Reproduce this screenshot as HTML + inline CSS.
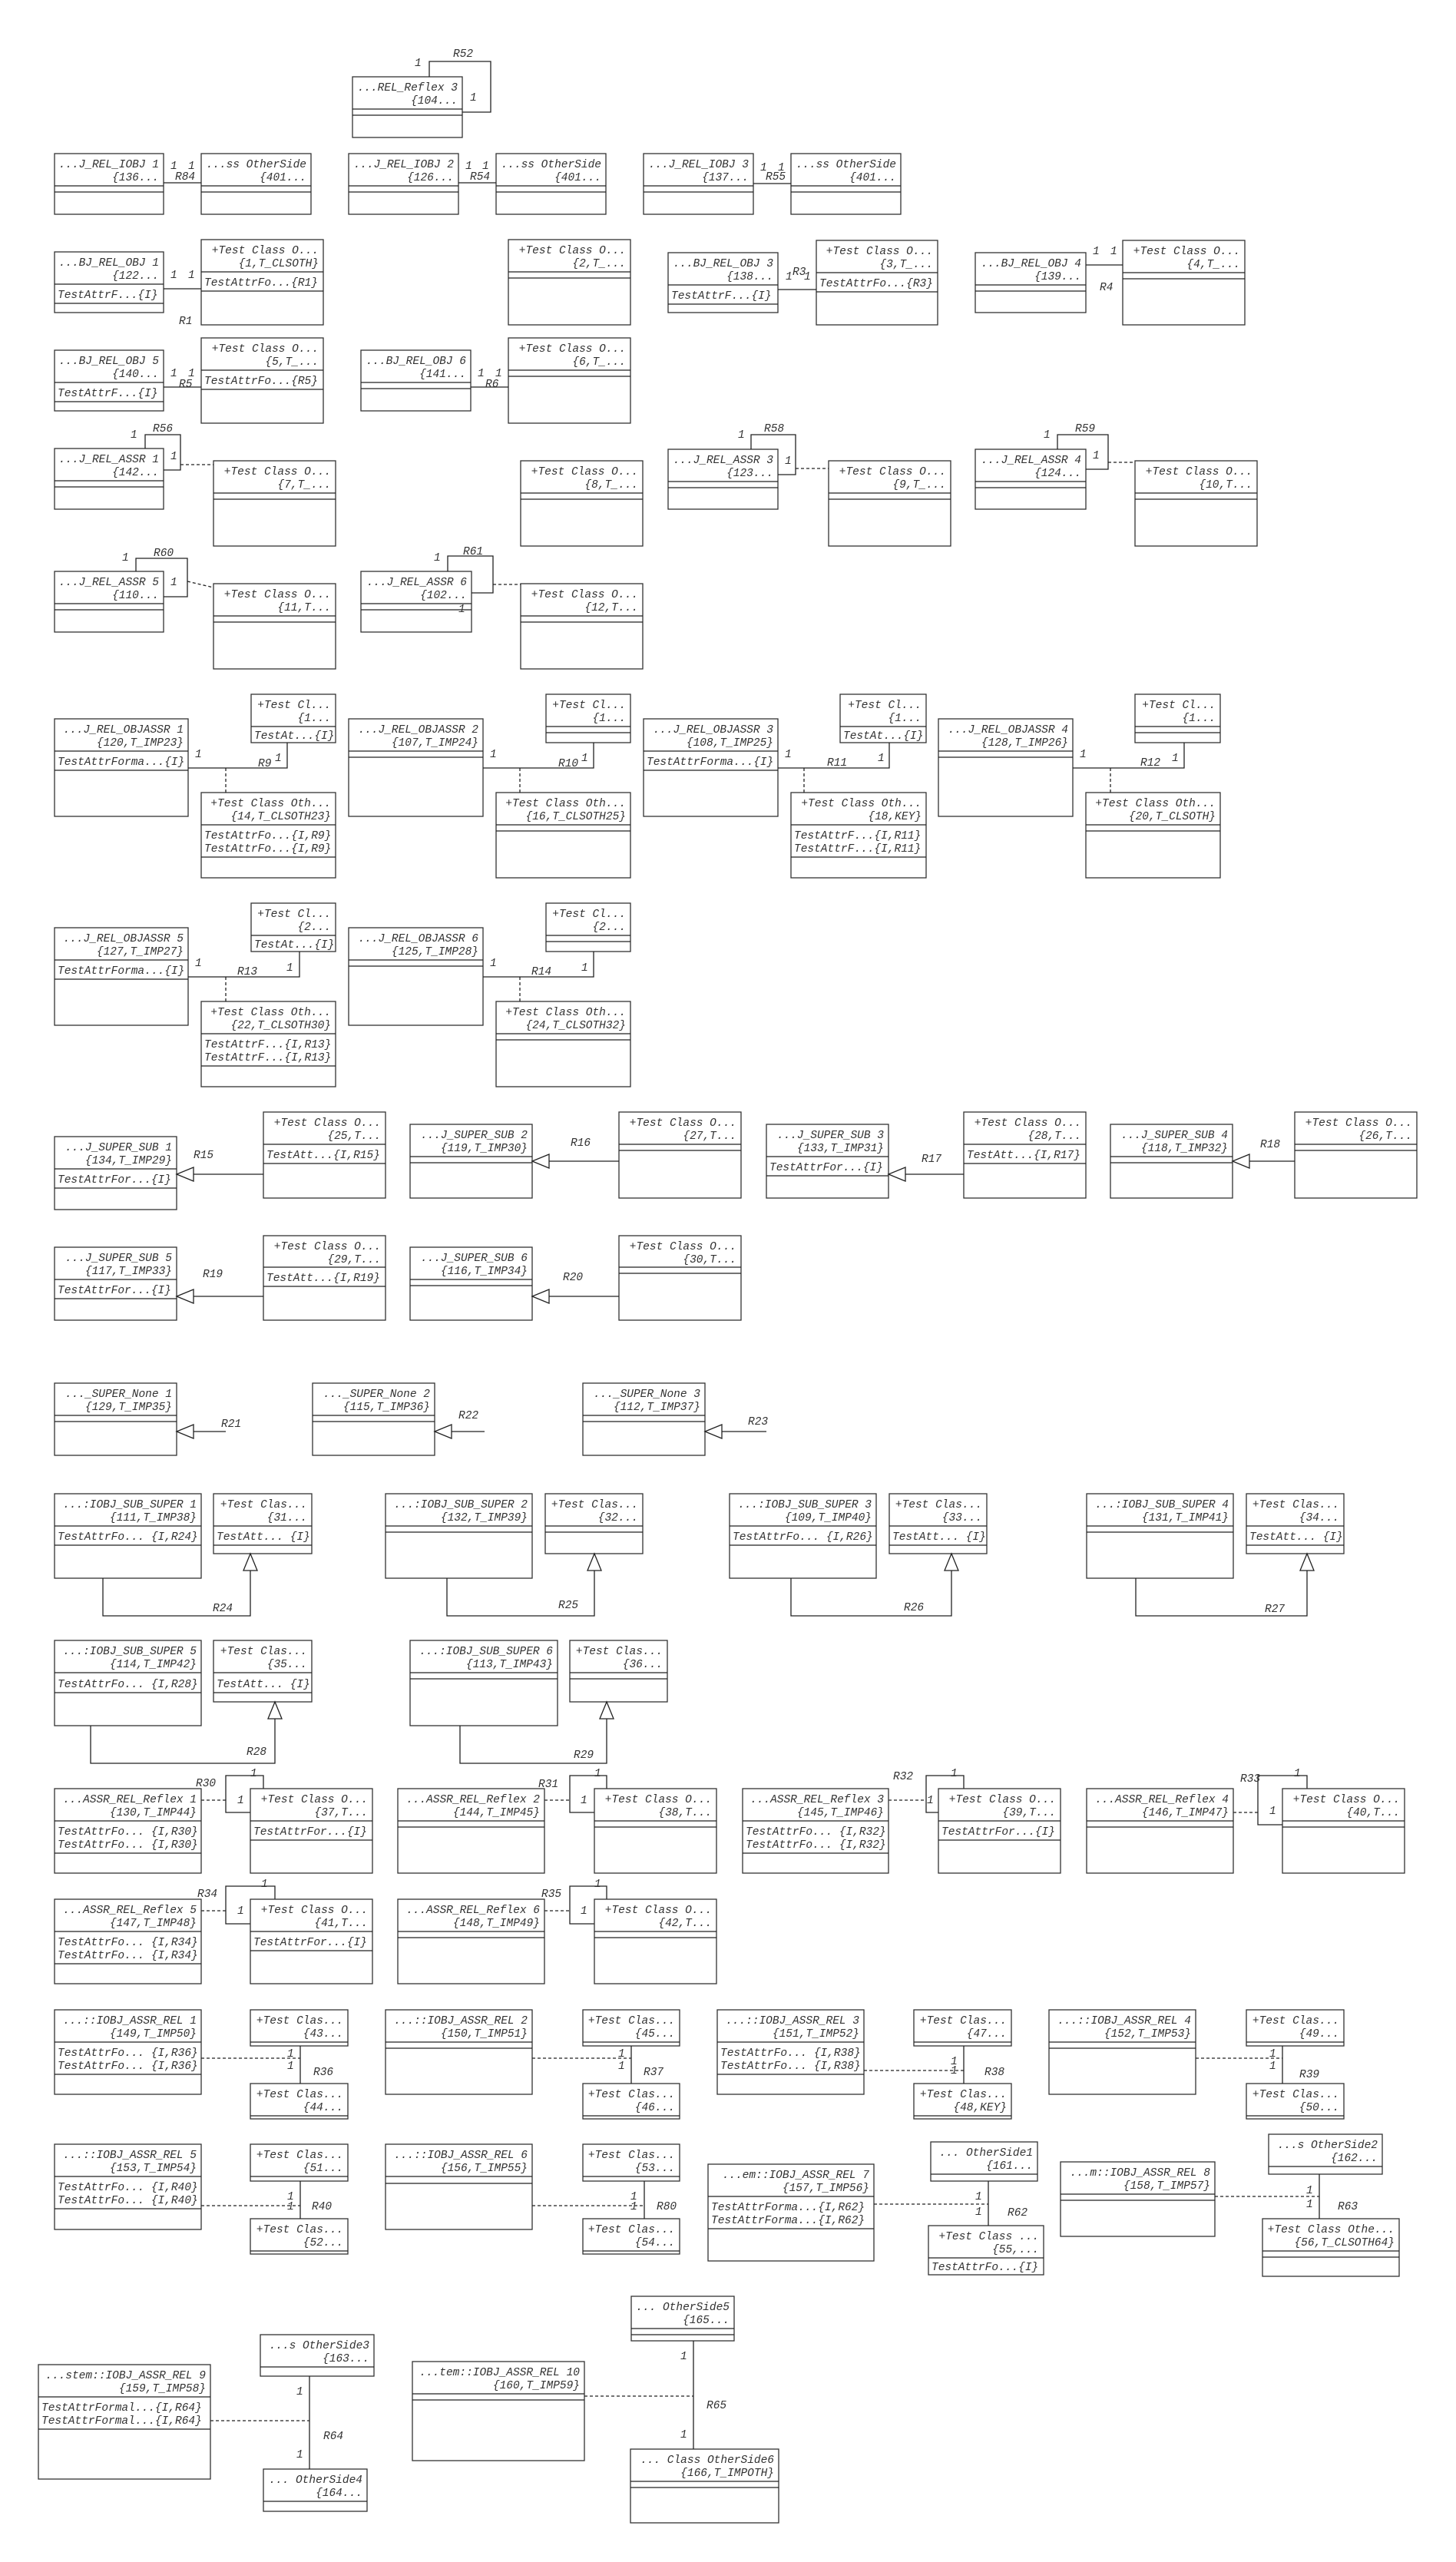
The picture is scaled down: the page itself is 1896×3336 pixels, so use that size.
<!DOCTYPE html>
<html><head><meta charset="utf-8"><style>
html,body{margin:0;padding:0;background:#fff}
svg{display:block}
rect{fill:#fff;stroke:#333;stroke-width:1.3}
line,path{stroke:#222;stroke-width:1.3;fill:none}
.d{stroke-dasharray:4 3}
text{font-family:"Liberation Mono",monospace;font-style:italic;font-size:14.5px;fill:#333}
.r{text-anchor:end}
polygon{fill:#fff;stroke:#222;stroke-width:1.3}
</style></head><body>
<svg width="1896" height="3336" viewBox="0 0 1896 3336" xmlns="http://www.w3.org/2000/svg">
<!-- Reflex 3 -->
<rect x="459" y="100" width="143" height="79"/><line x1="459" y1="142" x2="602" y2="142"/><line x1="459" y1="150" x2="602" y2="150"/>
<text class="r" x="596" y="118">...REL_Reflex 3</text><text class="r" x="596" y="135">{104...</text>
<path d="M559,100 V80 H639 V146 H602"/><text x="540" y="86">1</text><text x="590" y="74">R52</text><text x="612" y="131">1</text>

<!-- Row B -->
<rect x="71" y="200" width="142" height="79"/><line x1="71" y1="242" x2="213" y2="242"/><line x1="71" y1="250" x2="213" y2="250"/>
<text class="r" x="207" y="218">...J_REL_IOBJ 1</text><text class="r" x="207" y="235">{136...</text>
<rect x="262" y="200" width="143" height="79"/><line x1="262" y1="242" x2="405" y2="242"/><line x1="262" y1="250" x2="405" y2="250"/>
<text class="r" x="399" y="218">...ss OtherSide</text><text class="r" x="399" y="235">{401...</text>
<line x1="213" y1="238" x2="262" y2="238"/><text x="222" y="220">1</text><text x="245" y="220">1</text><text x="228" y="234">R84</text>

<rect x="454" y="200" width="143" height="79"/><line x1="454" y1="242" x2="597" y2="242"/><line x1="454" y1="250" x2="597" y2="250"/>
<text class="r" x="591" y="218">...J_REL_IOBJ 2</text><text class="r" x="591" y="235">{126...</text>
<rect x="646" y="200" width="143" height="79"/><line x1="646" y1="242" x2="789" y2="242"/><line x1="646" y1="250" x2="789" y2="250"/>
<text class="r" x="783" y="218">...ss OtherSide</text><text class="r" x="783" y="235">{401...</text>
<line x1="597" y1="238" x2="646" y2="238"/><text x="606" y="220">1</text><text x="628" y="220">1</text><text x="612" y="234">R54</text>

<rect x="838" y="200" width="143" height="79"/><line x1="838" y1="242" x2="981" y2="242"/><line x1="838" y1="250" x2="981" y2="250"/>
<text class="r" x="975" y="218">...J_REL_IOBJ 3</text><text class="r" x="975" y="235">{137...</text>
<rect x="1030" y="200" width="143" height="79"/><line x1="1030" y1="242" x2="1173" y2="242"/><line x1="1030" y1="250" x2="1173" y2="250"/>
<text class="r" x="1167" y="218">...ss OtherSide</text><text class="r" x="1167" y="235">{401...</text>
<line x1="981" y1="239" x2="1030" y2="239"/><text x="990" y="222">1</text><text x="1013" y="222">1</text><text x="997" y="234">R55</text>

<!-- Row C -->
<rect x="71" y="328" width="142" height="79"/><line x1="71" y1="370" x2="213" y2="370"/><line x1="71" y1="395" x2="213" y2="395"/>
<text class="r" x="207" y="346">...BJ_REL_OBJ 1</text><text class="r" x="207" y="363">{122...</text><text x="75" y="388">TestAttrF...{I}</text>
<rect x="262" y="312" width="159" height="111"/><line x1="262" y1="354" x2="421" y2="354"/><line x1="262" y1="379" x2="421" y2="379"/>
<text class="r" x="415" y="330">+Test Class O...</text><text class="r" x="415" y="347">{1,T_CLSOTH}</text><text x="266" y="372">TestAttrFo...{R1}</text>
<line x1="213" y1="376" x2="262" y2="376"/><text x="222" y="362">1</text><text x="245" y="362">1</text><text x="233" y="422">R1</text>

<rect x="662" y="312" width="159" height="111"/><line x1="662" y1="354" x2="821" y2="354"/><line x1="662" y1="362" x2="821" y2="362"/>
<text class="r" x="815" y="330">+Test Class O...</text><text class="r" x="815" y="347">{2,T_...</text>

<rect x="870" y="329" width="143" height="78"/><line x1="870" y1="371" x2="1013" y2="371"/><line x1="870" y1="396" x2="1013" y2="396"/>
<text class="r" x="1007" y="347">...BJ_REL_OBJ 3</text><text class="r" x="1007" y="364">{138...</text><text x="874" y="389">TestAttrF...{I}</text>
<rect x="1063" y="313" width="158" height="110"/><line x1="1063" y1="355" x2="1221" y2="355"/><line x1="1063" y1="380" x2="1221" y2="380"/>
<text class="r" x="1215" y="331">+Test Class O...</text><text class="r" x="1215" y="348">{3,T_...</text><text x="1067" y="373">TestAttrFo...{R3}</text>
<line x1="1013" y1="377" x2="1063" y2="377"/><text x="1023" y="364">1</text><text x="1032" y="358">R3</text><text x="1047" y="364">1</text>

<rect x="1270" y="329" width="144" height="78"/><line x1="1270" y1="371" x2="1414" y2="371"/><line x1="1270" y1="379" x2="1414" y2="379"/>
<text class="r" x="1408" y="347">...BJ_REL_OBJ 4</text><text class="r" x="1408" y="364">{139...</text>
<rect x="1462" y="313" width="159" height="110"/><line x1="1462" y1="355" x2="1621" y2="355"/><line x1="1462" y1="363" x2="1621" y2="363"/>
<text class="r" x="1615" y="331">+Test Class O...</text><text class="r" x="1615" y="348">{4,T_...</text>
<line x1="1414" y1="345" x2="1462" y2="345"/><text x="1423" y="331">1</text><text x="1446" y="331">1</text><text x="1432" y="378">R4</text>

<!-- Row D -->
<rect x="71" y="456" width="142" height="79"/><line x1="71" y1="498" x2="213" y2="498"/><line x1="71" y1="523" x2="213" y2="523"/>
<text class="r" x="207" y="474">...BJ_REL_OBJ 5</text><text class="r" x="207" y="491">{140...</text><text x="75" y="516">TestAttrF...{I}</text>
<rect x="262" y="440" width="159" height="111"/><line x1="262" y1="482" x2="421" y2="482"/><line x1="262" y1="507" x2="421" y2="507"/>
<text class="r" x="415" y="458">+Test Class O...</text><text class="r" x="415" y="475">{5,T_...</text><text x="266" y="500">TestAttrFo...{R5}</text>
<line x1="213" y1="504" x2="262" y2="504"/><text x="222" y="490">1</text><text x="245" y="490">1</text><text x="233" y="504">R5</text>
<rect x="470" y="456" width="143" height="79"/><line x1="470" y1="498" x2="613" y2="498"/><line x1="470" y1="506" x2="613" y2="506"/>
<text class="r" x="607" y="474">...BJ_REL_OBJ 6</text><text class="r" x="607" y="491">{141...</text>
<rect x="662" y="440" width="159" height="111"/><line x1="662" y1="482" x2="821" y2="482"/><line x1="662" y1="490" x2="821" y2="490"/>
<text class="r" x="815" y="458">+Test Class O...</text><text class="r" x="815" y="475">{6,T_...</text>
<line x1="613" y1="504" x2="662" y2="504"/><text x="622" y="490">1</text><text x="645" y="490">1</text><text x="632" y="504">R6</text>

<!-- Row E -->
<rect x="71" y="584" width="142" height="79"/><line x1="71" y1="626" x2="213" y2="626"/><line x1="71" y1="634" x2="213" y2="634"/>
<text class="r" x="207" y="602">...J_REL_ASSR 1</text><text class="r" x="207" y="619">{142...</text>
<path d="M189,584 V566 H235 V612 H213"/><text x="170" y="570">1</text><text x="199" y="562">R56</text><text x="222" y="598">1</text>
<line class="d" x1="235" y1="605" x2="278" y2="605"/>
<rect x="278" y="600" width="159" height="111"/><line x1="278" y1="642" x2="437" y2="642"/><line x1="278" y1="650" x2="437" y2="650"/>
<text class="r" x="431" y="618">+Test Class O...</text><text class="r" x="431" y="635">{7,T_...</text>
<rect x="678" y="600" width="159" height="111"/><line x1="678" y1="642" x2="837" y2="642"/><line x1="678" y1="650" x2="837" y2="650"/>
<text class="r" x="831" y="618">+Test Class O...</text><text class="r" x="831" y="635">{8,T_...</text>

<rect x="870" y="585" width="143" height="78"/><line x1="870" y1="627" x2="1013" y2="627"/><line x1="870" y1="635" x2="1013" y2="635"/>
<text class="r" x="1007" y="603">...J_REL_ASSR 3</text><text class="r" x="1007" y="620">{123...</text>
<path d="M978,585 V566 H1036 V618 H1013"/><text x="961" y="570">1</text><text x="995" y="562">R58</text><text x="1022" y="604">1</text>
<line class="d" x1="1036" y1="610" x2="1079" y2="610"/>
<rect x="1079" y="600" width="159" height="111"/><line x1="1079" y1="642" x2="1238" y2="642"/><line x1="1079" y1="650" x2="1238" y2="650"/>
<text class="r" x="1232" y="618">+Test Class O...</text><text class="r" x="1232" y="635">{9,T_...</text>

<rect x="1270" y="585" width="144" height="78"/><line x1="1270" y1="627" x2="1414" y2="627"/><line x1="1270" y1="635" x2="1414" y2="635"/>
<text class="r" x="1408" y="603">...J_REL_ASSR 4</text><text class="r" x="1408" y="620">{124...</text>
<path d="M1377,585 V566 H1443 V611 H1414"/><text x="1359" y="570">1</text><text x="1400" y="562">R59</text><text x="1423" y="597">1</text>
<line class="d" x1="1443" y1="602" x2="1478" y2="602"/>
<rect x="1478" y="600" width="159" height="111"/><line x1="1478" y1="642" x2="1637" y2="642"/><line x1="1478" y1="650" x2="1637" y2="650"/>
<text class="r" x="1631" y="618">+Test Class O...</text><text class="r" x="1631" y="635">{10,T...</text>

<!-- Row F -->
<rect x="71" y="744" width="142" height="79"/><line x1="71" y1="786" x2="213" y2="786"/><line x1="71" y1="794" x2="213" y2="794"/>
<text class="r" x="207" y="762">...J_REL_ASSR 5</text><text class="r" x="207" y="779">{110...</text>
<path d="M177,744 V727 H244 V777 H213"/><text x="159" y="730">1</text><text x="200" y="724">R60</text><text x="222" y="762">1</text>
<line class="d" x1="244" y1="757" x2="278" y2="765"/>
<rect x="278" y="760" width="159" height="111"/><line x1="278" y1="802" x2="437" y2="802"/><line x1="278" y1="810" x2="437" y2="810"/>
<text class="r" x="431" y="778">+Test Class O...</text><text class="r" x="431" y="795">{11,T...</text>
<rect x="470" y="744" width="144" height="79"/><line x1="470" y1="786" x2="614" y2="786"/><line x1="470" y1="794" x2="614" y2="794"/>
<text class="r" x="608" y="762">...J_REL_ASSR 6</text><text class="r" x="608" y="779">{102...</text><text x="597" y="797">1</text>
<path d="M583,744 V724 H642 V772 H614"/><text x="565" y="730">1</text><text x="603" y="722">R61</text>
<line class="d" x1="642" y1="761" x2="678" y2="761"/>
<rect x="678" y="760" width="159" height="111"/><line x1="678" y1="802" x2="837" y2="802"/><line x1="678" y1="810" x2="837" y2="810"/>
<text class="r" x="831" y="778">+Test Class O...</text><text class="r" x="831" y="795">{12,T...</text>

<!-- Row G OBJASSR 1-4 -->
<rect x="71" y="936" width="174" height="127"/><line x1="71" y1="978" x2="245" y2="978"/><line x1="71" y1="1003" x2="245" y2="1003"/>
<text class="r" x="239" y="954">...J_REL_OBJASSR 1</text><text class="r" x="239" y="971">{120,T_IMP23}</text><text x="75" y="996">TestAttrForma...{I}</text>
<rect x="327" y="904" width="110" height="63"/><line x1="327" y1="946" x2="437" y2="946"/>
<text class="r" x="431" y="922">+Test Cl...</text><text class="r" x="431" y="939">{1...</text><text x="331" y="962">TestAt...{I}</text>
<rect x="262" y="1032" width="175" height="111"/><line x1="262" y1="1074" x2="437" y2="1074"/><line x1="262" y1="1116" x2="437" y2="1116"/>
<text class="r" x="431" y="1050">+Test Class Oth...</text><text class="r" x="431" y="1067">{14,T_CLSOTH23}</text><text x="266" y="1092">TestAttrFo...{I,R9}</text><text x="266" y="1109">TestAttrFo...{I,R9}</text>
<path d="M245,1000 H374 V967"/><line class="d" x1="294" y1="1000" x2="294" y2="1032"/><text x="254" y="986">1</text><text x="336" y="998">R9</text><text x="358" y="991">1</text>

<rect x="454" y="936" width="175" height="127"/><line x1="454" y1="978" x2="629" y2="978"/><line x1="454" y1="986" x2="629" y2="986"/>
<text class="r" x="623" y="954">...J_REL_OBJASSR 2</text><text class="r" x="623" y="971">{107,T_IMP24}</text>
<rect x="711" y="904" width="110" height="63"/><line x1="711" y1="946" x2="821" y2="946"/><line x1="711" y1="954" x2="821" y2="954"/>
<text class="r" x="815" y="922">+Test Cl...</text><text class="r" x="815" y="939">{1...</text>
<rect x="646" y="1032" width="175" height="111"/><line x1="646" y1="1074" x2="821" y2="1074"/><line x1="646" y1="1082" x2="821" y2="1082"/>
<text class="r" x="815" y="1050">+Test Class Oth...</text><text class="r" x="815" y="1067">{16,T_CLSOTH25}</text>
<path d="M629,1000 H773 V967"/><line class="d" x1="677" y1="1000" x2="677" y2="1032"/><text x="638" y="986">1</text><text x="727" y="998">R10</text><text x="757" y="991">1</text>

<rect x="838" y="936" width="175" height="127"/><line x1="838" y1="978" x2="1013" y2="978"/><line x1="838" y1="1003" x2="1013" y2="1003"/>
<text class="r" x="1007" y="954">...J_REL_OBJASSR 3</text><text class="r" x="1007" y="971">{108,T_IMP25}</text><text x="842" y="996">TestAttrForma...{I}</text>
<rect x="1094" y="904" width="112" height="63"/><line x1="1094" y1="946" x2="1206" y2="946"/>
<text class="r" x="1200" y="922">+Test Cl...</text><text class="r" x="1200" y="939">{1...</text><text x="1098" y="962">TestAt...{I}</text>
<rect x="1030" y="1032" width="176" height="111"/><line x1="1030" y1="1074" x2="1206" y2="1074"/><line x1="1030" y1="1116" x2="1206" y2="1116"/>
<text class="r" x="1200" y="1050">+Test Class Oth...</text><text class="r" x="1200" y="1067">{18,KEY}</text><text x="1034" y="1092">TestAttrF...{I,R11}</text><text x="1034" y="1109">TestAttrF...{I,R11}</text>
<path d="M1013,1000 H1158 V967"/><line class="d" x1="1047" y1="1000" x2="1047" y2="1032"/><text x="1022" y="986">1</text><text x="1077" y="997">R11</text><text x="1143" y="991">1</text>

<rect x="1222" y="936" width="175" height="127"/><line x1="1222" y1="978" x2="1397" y2="978"/><line x1="1222" y1="986" x2="1397" y2="986"/>
<text class="r" x="1391" y="954">...J_REL_OBJASSR 4</text><text class="r" x="1391" y="971">{128,T_IMP26}</text>
<rect x="1478" y="904" width="111" height="63"/><line x1="1478" y1="946" x2="1589" y2="946"/><line x1="1478" y1="954" x2="1589" y2="954"/>
<text class="r" x="1583" y="922">+Test Cl...</text><text class="r" x="1583" y="939">{1...</text>
<rect x="1414" y="1032" width="175" height="111"/><line x1="1414" y1="1074" x2="1589" y2="1074"/><line x1="1414" y1="1082" x2="1589" y2="1082"/>
<text class="r" x="1583" y="1050">+Test Class Oth...</text><text class="r" x="1583" y="1067">{20,T_CLSOTH}</text>
<path d="M1397,1000 H1542 V967"/><line class="d" x1="1446" y1="1000" x2="1446" y2="1032"/><text x="1406" y="986">1</text><text x="1485" y="997">R12</text><text x="1526" y="991">1</text>

<!-- Row H -->
<rect x="71" y="1208" width="174" height="127"/><line x1="71" y1="1250" x2="245" y2="1250"/><line x1="71" y1="1275" x2="245" y2="1275"/>
<text class="r" x="239" y="1226">...J_REL_OBJASSR 5</text><text class="r" x="239" y="1243">{127,T_IMP27}</text><text x="75" y="1268">TestAttrForma...{I}</text>
<rect x="327" y="1176" width="110" height="63"/><line x1="327" y1="1218" x2="437" y2="1218"/>
<text class="r" x="431" y="1194">+Test Cl...</text><text class="r" x="431" y="1211">{2...</text><text x="331" y="1234">TestAt...{I}</text>
<rect x="262" y="1304" width="175" height="111"/><line x1="262" y1="1346" x2="437" y2="1346"/><line x1="262" y1="1388" x2="437" y2="1388"/>
<text class="r" x="431" y="1322">+Test Class Oth...</text><text class="r" x="431" y="1339">{22,T_CLSOTH30}</text><text x="266" y="1364">TestAttrF...{I,R13}</text><text x="266" y="1381">TestAttrF...{I,R13}</text>
<path d="M245,1272 H390 V1239"/><line class="d" x1="294" y1="1272" x2="294" y2="1304"/><text x="254" y="1258">1</text><text x="309" y="1269">R13</text><text x="373" y="1264">1</text>

<rect x="454" y="1208" width="175" height="127"/><line x1="454" y1="1250" x2="629" y2="1250"/><line x1="454" y1="1258" x2="629" y2="1258"/>
<text class="r" x="623" y="1226">...J_REL_OBJASSR 6</text><text class="r" x="623" y="1243">{125,T_IMP28}</text>
<rect x="711" y="1176" width="110" height="63"/><line x1="711" y1="1218" x2="821" y2="1218"/><line x1="711" y1="1226" x2="821" y2="1226"/>
<text class="r" x="815" y="1194">+Test Cl...</text><text class="r" x="815" y="1211">{2...</text>
<rect x="646" y="1304" width="175" height="111"/><line x1="646" y1="1346" x2="821" y2="1346"/><line x1="646" y1="1354" x2="821" y2="1354"/>
<text class="r" x="815" y="1322">+Test Class Oth...</text><text class="r" x="815" y="1339">{24,T_CLSOTH32}</text>
<path d="M629,1272 H773 V1239"/><line class="d" x1="677" y1="1272" x2="677" y2="1304"/><text x="638" y="1258">1</text><text x="692" y="1269">R14</text><text x="757" y="1264">1</text>

<!-- Row I SUPER_SUB -->
<rect x="71" y="1480" width="159" height="95"/><line x1="71" y1="1522" x2="230" y2="1522"/><line x1="71" y1="1547" x2="230" y2="1547"/>
<text class="r" x="224" y="1498">...J_SUPER_SUB 1</text><text class="r" x="224" y="1515">{134,T_IMP29}</text><text x="75" y="1540">TestAttrFor...{I}</text>
<rect x="343" y="1448" width="159" height="112"/><line x1="343" y1="1490" x2="502" y2="1490"/><line x1="343" y1="1515" x2="502" y2="1515"/>
<text class="r" x="496" y="1466">+Test Class O...</text><text class="r" x="496" y="1483">{25,T...</text><text x="347" y="1508">TestAtt...{I,R15}</text>
<line x1="252" y1="1529" x2="343" y2="1529"/><polygon points="230,1529 252,1520 252,1538"/><text x="252" y="1508">R15</text>

<rect x="534" y="1464" width="159" height="96"/><line x1="534" y1="1506" x2="693" y2="1506"/><line x1="534" y1="1514" x2="693" y2="1514"/>
<text class="r" x="687" y="1482">...J_SUPER_SUB 2</text><text class="r" x="687" y="1499">{119,T_IMP30}</text>
<rect x="806" y="1448" width="159" height="112"/><line x1="806" y1="1490" x2="965" y2="1490"/><line x1="806" y1="1498" x2="965" y2="1498"/>
<text class="r" x="959" y="1466">+Test Class O...</text><text class="r" x="959" y="1483">{27,T...</text>
<line x1="715" y1="1512" x2="806" y2="1512"/><polygon points="693,1512 715,1503 715,1521"/><text x="743" y="1492">R16</text>

<rect x="998" y="1464" width="159" height="96"/><line x1="998" y1="1506" x2="1157" y2="1506"/><line x1="998" y1="1531" x2="1157" y2="1531"/>
<text class="r" x="1151" y="1482">...J_SUPER_SUB 3</text><text class="r" x="1151" y="1499">{133,T_IMP31}</text><text x="1002" y="1524">TestAttrFor...{I}</text>
<rect x="1255" y="1448" width="159" height="112"/><line x1="1255" y1="1490" x2="1414" y2="1490"/><line x1="1255" y1="1515" x2="1414" y2="1515"/>
<text class="r" x="1408" y="1466">+Test Class O...</text><text class="r" x="1408" y="1483">{28,T...</text><text x="1259" y="1508">TestAtt...{I,R17}</text>
<line x1="1179" y1="1529" x2="1255" y2="1529"/><polygon points="1157,1529 1179,1520 1179,1538"/><text x="1200" y="1513">R17</text>

<rect x="1446" y="1464" width="159" height="96"/><line x1="1446" y1="1506" x2="1605" y2="1506"/><line x1="1446" y1="1514" x2="1605" y2="1514"/>
<text class="r" x="1599" y="1482">...J_SUPER_SUB 4</text><text class="r" x="1599" y="1499">{118,T_IMP32}</text>
<rect x="1686" y="1448" width="159" height="112"/><line x1="1686" y1="1490" x2="1845" y2="1490"/><line x1="1686" y1="1498" x2="1845" y2="1498"/>
<text class="r" x="1839" y="1466">+Test Class O...</text><text class="r" x="1839" y="1483">{26,T...</text>
<line x1="1627" y1="1512" x2="1686" y2="1512"/><polygon points="1605,1512 1627,1503 1627,1521"/><text x="1641" y="1494">R18</text>

<!-- Row J -->
<rect x="71" y="1624" width="159" height="95"/><line x1="71" y1="1666" x2="230" y2="1666"/><line x1="71" y1="1691" x2="230" y2="1691"/>
<text class="r" x="224" y="1642">...J_SUPER_SUB 5</text><text class="r" x="224" y="1659">{117,T_IMP33}</text><text x="75" y="1684">TestAttrFor...{I}</text>
<rect x="343" y="1609" width="159" height="110"/><line x1="343" y1="1650" x2="502" y2="1650"/><line x1="343" y1="1675" x2="502" y2="1675"/>
<text class="r" x="496" y="1627">+Test Class O...</text><text class="r" x="496" y="1644">{29,T...</text><text x="347" y="1668">TestAtt...{I,R19}</text>
<line x1="252" y1="1688" x2="343" y2="1688"/><polygon points="230,1688 252,1679 252,1697"/><text x="264" y="1663">R19</text>
<rect x="534" y="1624" width="159" height="95"/><line x1="534" y1="1666" x2="693" y2="1666"/><line x1="534" y1="1674" x2="693" y2="1674"/>
<text class="r" x="687" y="1642">...J_SUPER_SUB 6</text><text class="r" x="687" y="1659">{116,T_IMP34}</text>
<rect x="806" y="1609" width="159" height="110"/><line x1="806" y1="1650" x2="965" y2="1650"/><line x1="806" y1="1658" x2="965" y2="1658"/>
<text class="r" x="959" y="1627">+Test Class O...</text><text class="r" x="959" y="1644">{30,T...</text>
<line x1="715" y1="1688" x2="806" y2="1688"/><polygon points="693,1688 715,1679 715,1697"/><text x="733" y="1667">R20</text>

<!-- Row K -->
<rect x="71" y="1801" width="159" height="94"/><line x1="71" y1="1843" x2="230" y2="1843"/><line x1="71" y1="1851" x2="230" y2="1851"/>
<text class="r" x="224" y="1819">..._SUPER_None 1</text><text class="r" x="224" y="1836">{129,T_IMP35}</text>
<line x1="252" y1="1864" x2="294" y2="1864"/><polygon points="230,1864 252,1855 252,1873"/><text x="288" y="1858">R21</text>
<rect x="407" y="1801" width="159" height="94"/><line x1="407" y1="1843" x2="566" y2="1843"/><line x1="407" y1="1851" x2="566" y2="1851"/>
<text class="r" x="560" y="1819">..._SUPER_None 2</text><text class="r" x="560" y="1836">{115,T_IMP36}</text>
<line x1="588" y1="1864" x2="631" y2="1864"/><polygon points="566,1864 588,1855 588,1873"/><text x="597" y="1847">R22</text>
<rect x="759" y="1801" width="159" height="94"/><line x1="759" y1="1843" x2="918" y2="1843"/><line x1="759" y1="1851" x2="918" y2="1851"/>
<text class="r" x="912" y="1819">..._SUPER_None 3</text><text class="r" x="912" y="1836">{112,T_IMP37}</text>
<line x1="940" y1="1864" x2="998" y2="1864"/><polygon points="918,1864 940,1855 940,1873"/><text x="974" y="1855">R23</text>

<!-- Row L -->
<rect x="71" y="1945" width="191" height="110"/><line x1="71" y1="1987" x2="262" y2="1987"/><line x1="71" y1="2012" x2="262" y2="2012"/>
<text class="r" x="256" y="1963">...:IOBJ_SUB_SUPER 1</text><text class="r" x="256" y="1980">{111,T_IMP38}</text><text x="75" y="2005">TestAttrFo... {I,R24}</text>
<rect x="278" y="1945" width="128" height="78"/><line x1="278" y1="1987" x2="406" y2="1987"/><line x1="278" y1="2012" x2="406" y2="2012"/>
<text class="r" x="400" y="1963">+Test Clas...</text><text class="r" x="400" y="1980">{31...</text><text x="282" y="2005">TestAtt... {I}</text>
<path d="M326,2045 V2104 H134 V2055"/><polygon points="326,2023 317,2045 335,2045"/><text x="277" y="2098">R24</text>

<rect x="502" y="1945" width="191" height="110"/><line x1="502" y1="1987" x2="693" y2="1987"/><line x1="502" y1="1995" x2="693" y2="1995"/>
<text class="r" x="687" y="1963">...:IOBJ_SUB_SUPER 2</text><text class="r" x="687" y="1980">{132,T_IMP39}</text>
<rect x="710" y="1945" width="127" height="78"/><line x1="710" y1="1987" x2="837" y2="1987"/><line x1="710" y1="1995" x2="837" y2="1995"/>
<text class="r" x="831" y="1963">+Test Clas...</text><text class="r" x="831" y="1980">{32...</text>
<path d="M774,2045 V2104 H582 V2055"/><polygon points="774,2023 765,2045 783,2045"/><text x="727" y="2094">R25</text>

<rect x="950" y="1945" width="191" height="110"/><line x1="950" y1="1987" x2="1141" y2="1987"/><line x1="950" y1="2012" x2="1141" y2="2012"/>
<text class="r" x="1135" y="1963">...:IOBJ_SUB_SUPER 3</text><text class="r" x="1135" y="1980">{109,T_IMP40}</text><text x="954" y="2005">TestAttrFo... {I,R26}</text>
<rect x="1158" y="1945" width="127" height="78"/><line x1="1158" y1="1987" x2="1285" y2="1987"/><line x1="1158" y1="2012" x2="1285" y2="2012"/>
<text class="r" x="1279" y="1963">+Test Clas...</text><text class="r" x="1279" y="1980">{33...</text><text x="1162" y="2005">TestAtt... {I}</text>
<path d="M1239,2045 V2104 H1030 V2055"/><polygon points="1239,2023 1230,2045 1248,2045"/><text x="1177" y="2097">R26</text>

<rect x="1415" y="1945" width="191" height="110"/><line x1="1415" y1="1987" x2="1606" y2="1987"/><line x1="1415" y1="1995" x2="1606" y2="1995"/>
<text class="r" x="1600" y="1963">...:IOBJ_SUB_SUPER 4</text><text class="r" x="1600" y="1980">{131,T_IMP41}</text>
<rect x="1623" y="1945" width="127" height="78"/><line x1="1623" y1="1987" x2="1750" y2="1987"/><line x1="1623" y1="2012" x2="1750" y2="2012"/>
<text class="r" x="1744" y="1963">+Test Clas...</text><text class="r" x="1744" y="1980">{34...</text><text x="1627" y="2005">TestAtt... {I}</text>
<path d="M1702,2045 V2104 H1479 V2055"/><polygon points="1702,2023 1693,2045 1711,2045"/><text x="1647" y="2099">R27</text>

<!-- Row M -->
<rect x="71" y="2136" width="191" height="111"/><line x1="71" y1="2178" x2="262" y2="2178"/><line x1="71" y1="2204" x2="262" y2="2204"/>
<text class="r" x="256" y="2154">...:IOBJ_SUB_SUPER 5</text><text class="r" x="256" y="2171">{114,T_IMP42}</text><text x="75" y="2197">TestAttrFo... {I,R28}</text>
<rect x="278" y="2136" width="128" height="80"/><line x1="278" y1="2178" x2="406" y2="2178"/><line x1="278" y1="2204" x2="406" y2="2204"/>
<text class="r" x="400" y="2154">+Test Clas...</text><text class="r" x="400" y="2171">{35...</text><text x="282" y="2197">TestAtt... {I}</text>
<path d="M358,2238 V2296 H118 V2247"/><polygon points="358,2216 349,2238 367,2238"/><text x="321" y="2285">R28</text>
<rect x="534" y="2136" width="192" height="111"/><line x1="534" y1="2178" x2="726" y2="2178"/><line x1="534" y1="2186" x2="726" y2="2186"/>
<text class="r" x="720" y="2154">...:IOBJ_SUB_SUPER 6</text><text class="r" x="720" y="2171">{113,T_IMP43}</text>
<rect x="742" y="2136" width="127" height="80"/><line x1="742" y1="2178" x2="869" y2="2178"/><line x1="742" y1="2186" x2="869" y2="2186"/>
<text class="r" x="863" y="2154">+Test Clas...</text><text class="r" x="863" y="2171">{36...</text>
<path d="M790,2238 V2296 H599 V2247"/><polygon points="790,2216 781,2238 799,2238"/><text x="747" y="2289">R29</text>

<!-- Row N Reflex -->
<path d="M343,2329 V2312 H294 V2360 H326"/><line class="d" x1="262" y1="2344" x2="294" y2="2344"/><text x="255" y="2326">R30</text><text x="309" y="2348">1</text><text x="326" y="2313">1</text>
<rect x="71" y="2329" width="191" height="110"/><line x1="71" y1="2371" x2="262" y2="2371"/><line x1="71" y1="2413" x2="262" y2="2413"/>
<text class="r" x="256" y="2347">...ASSR_REL_Reflex 1</text><text class="r" x="256" y="2364">{130,T_IMP44}</text><text x="75" y="2389">TestAttrFo... {I,R30}</text><text x="75" y="2406">TestAttrFo... {I,R30}</text>
<rect x="326" y="2329" width="159" height="110"/><line x1="326" y1="2371" x2="485" y2="2371"/><line x1="326" y1="2396" x2="485" y2="2396"/>
<text class="r" x="479" y="2347">+Test Class O...</text><text class="r" x="479" y="2364">{37,T...</text><text x="330" y="2389">TestAttrFor...{I}</text>

<path d="M790,2329 V2312 H742 V2360 H774"/><line class="d" x1="709" y1="2344" x2="742" y2="2344"/><text x="701" y="2327">R31</text><text x="756" y="2348">1</text><text x="774" y="2313">1</text>
<rect x="518" y="2329" width="191" height="110"/><line x1="518" y1="2371" x2="709" y2="2371"/><line x1="518" y1="2379" x2="709" y2="2379"/>
<text class="r" x="703" y="2347">...ASSR_REL_Reflex 2</text><text class="r" x="703" y="2364">{144,T_IMP45}</text>
<rect x="774" y="2329" width="159" height="110"/><line x1="774" y1="2371" x2="933" y2="2371"/><line x1="774" y1="2379" x2="933" y2="2379"/>
<text class="r" x="927" y="2347">+Test Class O...</text><text class="r" x="927" y="2364">{38,T...</text>

<path d="M1255,2329 V2312 H1206 V2360 H1222"/><line class="d" x1="1157" y1="2344" x2="1206" y2="2344"/><text x="1163" y="2317">R32</text><text x="1207" y="2348">1</text><text x="1238" y="2313">1</text>
<rect x="967" y="2329" width="190" height="110"/><line x1="967" y1="2371" x2="1157" y2="2371"/><line x1="967" y1="2413" x2="1157" y2="2413"/>
<text class="r" x="1151" y="2347">...ASSR_REL_Reflex 3</text><text class="r" x="1151" y="2364">{145,T_IMP46}</text><text x="971" y="2389">TestAttrFo... {I,R32}</text><text x="971" y="2406">TestAttrFo... {I,R32}</text>
<rect x="1222" y="2329" width="159" height="110"/><line x1="1222" y1="2371" x2="1381" y2="2371"/><line x1="1222" y1="2396" x2="1381" y2="2396"/>
<text class="r" x="1375" y="2347">+Test Class O...</text><text class="r" x="1375" y="2364">{39,T...</text><text x="1226" y="2389">TestAttrFor...{I}</text>

<path d="M1702,2329 V2312 H1638 V2376 H1670"/><line class="d" x1="1606" y1="2360" x2="1638" y2="2360"/><text x="1615" y="2320">R33</text><text x="1653" y="2362">1</text><text x="1685" y="2313">1</text>
<rect x="1415" y="2329" width="191" height="110"/><line x1="1415" y1="2371" x2="1606" y2="2371"/><line x1="1415" y1="2379" x2="1606" y2="2379"/>
<text class="r" x="1600" y="2347">...ASSR_REL_Reflex 4</text><text class="r" x="1600" y="2364">{146,T_IMP47}</text>
<rect x="1670" y="2329" width="159" height="110"/><line x1="1670" y1="2371" x2="1829" y2="2371"/><line x1="1670" y1="2379" x2="1829" y2="2379"/>
<text class="r" x="1823" y="2347">+Test Class O...</text><text class="r" x="1823" y="2364">{40,T...</text>

<!-- Row O -->
<path d="M358,2473 V2456 H294 V2505 H326"/><line class="d" x1="262" y1="2488" x2="294" y2="2488"/><text x="257" y="2470">R34</text><text x="309" y="2492">1</text><text x="340" y="2457">1</text>
<rect x="71" y="2473" width="191" height="110"/><line x1="71" y1="2515" x2="262" y2="2515"/><line x1="71" y1="2557" x2="262" y2="2557"/>
<text class="r" x="256" y="2491">...ASSR_REL_Reflex 5</text><text class="r" x="256" y="2508">{147,T_IMP48}</text><text x="75" y="2533">TestAttrFo... {I,R34}</text><text x="75" y="2550">TestAttrFo... {I,R34}</text>
<rect x="326" y="2473" width="159" height="110"/><line x1="326" y1="2515" x2="485" y2="2515"/><line x1="326" y1="2540" x2="485" y2="2540"/>
<text class="r" x="479" y="2491">+Test Class O...</text><text class="r" x="479" y="2508">{41,T...</text><text x="330" y="2533">TestAttrFor...{I}</text>
<path d="M790,2473 V2456 H742 V2505 H774"/><line class="d" x1="709" y1="2488" x2="742" y2="2488"/><text x="705" y="2470">R35</text><text x="756" y="2492">1</text><text x="774" y="2457">1</text>
<rect x="518" y="2473" width="191" height="110"/><line x1="518" y1="2515" x2="709" y2="2515"/><line x1="518" y1="2523" x2="709" y2="2523"/>
<text class="r" x="703" y="2491">...ASSR_REL_Reflex 6</text><text class="r" x="703" y="2508">{148,T_IMP49}</text>
<rect x="774" y="2473" width="159" height="110"/><line x1="774" y1="2515" x2="933" y2="2515"/><line x1="774" y1="2523" x2="933" y2="2523"/>
<text class="r" x="927" y="2491">+Test Class O...</text><text class="r" x="927" y="2508">{42,T...</text>

<!-- Row P -->
<rect x="71" y="2617" width="191" height="110"/><line x1="71" y1="2659" x2="262" y2="2659"/><line x1="71" y1="2701" x2="262" y2="2701"/>
<text class="r" x="256" y="2635">...::IOBJ_ASSR_REL 1</text><text class="r" x="256" y="2652">{149,T_IMP50}</text><text x="75" y="2677">TestAttrFo... {I,R36}</text><text x="75" y="2694">TestAttrFo... {I,R36}</text>
<rect x="326" y="2617" width="127" height="47"/><line x1="326" y1="2659" x2="453" y2="2659"/>
<text class="r" x="447" y="2635">+Test Clas...</text><text class="r" x="447" y="2652">{43...</text>
<rect x="326" y="2713" width="127" height="46"/><line x1="326" y1="2755" x2="453" y2="2755"/>
<text class="r" x="447" y="2731">+Test Clas...</text><text class="r" x="447" y="2748">{44...</text>
<line x1="391" y1="2664" x2="391" y2="2713"/><line class="d" x1="262" y1="2680" x2="391" y2="2680"/><text x="374" y="2678">1</text><text x="374" y="2694">1</text><text x="408" y="2702">R36</text>

<rect x="502" y="2617" width="191" height="110"/><line x1="502" y1="2659" x2="693" y2="2659"/><line x1="502" y1="2667" x2="693" y2="2667"/>
<text class="r" x="687" y="2635">...::IOBJ_ASSR_REL 2</text><text class="r" x="687" y="2652">{150,T_IMP51}</text>
<rect x="759" y="2617" width="126" height="47"/><line x1="759" y1="2659" x2="885" y2="2659"/>
<text class="r" x="879" y="2635">+Test Clas...</text><text class="r" x="879" y="2652">{45...</text>
<rect x="759" y="2713" width="126" height="46"/><line x1="759" y1="2755" x2="885" y2="2755"/>
<text class="r" x="879" y="2731">+Test Clas...</text><text class="r" x="879" y="2748">{46...</text>
<line x1="822" y1="2664" x2="822" y2="2713"/><line class="d" x1="693" y1="2680" x2="822" y2="2680"/><text x="805" y="2678">1</text><text x="805" y="2694">1</text><text x="838" y="2702">R37</text>

<rect x="934" y="2617" width="191" height="110"/><line x1="934" y1="2659" x2="1125" y2="2659"/><line x1="934" y1="2701" x2="1125" y2="2701"/>
<text class="r" x="1119" y="2635">...::IOBJ_ASSR_REL 3</text><text class="r" x="1119" y="2652">{151,T_IMP52}</text><text x="938" y="2677">TestAttrFo... {I,R38}</text><text x="938" y="2694">TestAttrFo... {I,R38}</text>
<rect x="1190" y="2617" width="127" height="47"/><line x1="1190" y1="2659" x2="1317" y2="2659"/>
<text class="r" x="1311" y="2635">+Test Clas...</text><text class="r" x="1311" y="2652">{47...</text>
<rect x="1190" y="2713" width="127" height="46"/><line x1="1190" y1="2755" x2="1317" y2="2755"/>
<text class="r" x="1311" y="2731">+Test Clas...</text><text class="r" x="1311" y="2748">{48,KEY}</text>
<line x1="1255" y1="2664" x2="1255" y2="2713"/><line class="d" x1="1125" y1="2696" x2="1255" y2="2696"/><text x="1238" y="2688">1</text><text x="1238" y="2700">1</text><text x="1282" y="2702">R38</text>

<rect x="1366" y="2617" width="191" height="110"/><line x1="1366" y1="2659" x2="1557" y2="2659"/><line x1="1366" y1="2667" x2="1557" y2="2667"/>
<text class="r" x="1551" y="2635">...::IOBJ_ASSR_REL 4</text><text class="r" x="1551" y="2652">{152,T_IMP53}</text>
<rect x="1623" y="2617" width="127" height="47"/><line x1="1623" y1="2659" x2="1750" y2="2659"/>
<text class="r" x="1744" y="2635">+Test Clas...</text><text class="r" x="1744" y="2652">{49...</text>
<rect x="1623" y="2713" width="127" height="46"/><line x1="1623" y1="2755" x2="1750" y2="2755"/>
<text class="r" x="1744" y="2731">+Test Clas...</text><text class="r" x="1744" y="2748">{50...</text>
<line x1="1670" y1="2664" x2="1670" y2="2713"/><line class="d" x1="1557" y1="2680" x2="1670" y2="2680"/><text x="1653" y="2678">1</text><text x="1653" y="2694">1</text><text x="1692" y="2705">R39</text>

<!-- Row Q -->
<rect x="71" y="2792" width="191" height="111"/><line x1="71" y1="2834" x2="262" y2="2834"/><line x1="71" y1="2876" x2="262" y2="2876"/>
<text class="r" x="256" y="2810">...::IOBJ_ASSR_REL 5</text><text class="r" x="256" y="2827">{153,T_IMP54}</text><text x="75" y="2852">TestAttrFo... {I,R40}</text><text x="75" y="2869">TestAttrFo... {I,R40}</text>
<rect x="326" y="2792" width="127" height="48"/><line x1="326" y1="2834" x2="453" y2="2834"/>
<text class="r" x="447" y="2810">+Test Clas...</text><text class="r" x="447" y="2827">{51...</text>
<rect x="326" y="2889" width="127" height="46"/><line x1="326" y1="2931" x2="453" y2="2931"/>
<text class="r" x="447" y="2907">+Test Clas...</text><text class="r" x="447" y="2924">{52...</text>
<line x1="391" y1="2840" x2="391" y2="2889"/><line class="d" x1="262" y1="2872" x2="391" y2="2872"/><text x="374" y="2864">1</text><text x="374" y="2877">1</text><text x="406" y="2877">R40</text>

<rect x="502" y="2792" width="191" height="111"/><line x1="502" y1="2834" x2="693" y2="2834"/><line x1="502" y1="2843" x2="693" y2="2843"/>
<text class="r" x="687" y="2810">...::IOBJ_ASSR_REL 6</text><text class="r" x="687" y="2827">{156,T_IMP55}</text>
<rect x="759" y="2792" width="126" height="48"/><line x1="759" y1="2834" x2="885" y2="2834"/>
<text class="r" x="879" y="2810">+Test Clas...</text><text class="r" x="879" y="2827">{53...</text>
<rect x="759" y="2889" width="126" height="46"/><line x1="759" y1="2931" x2="885" y2="2931"/>
<text class="r" x="879" y="2907">+Test Clas...</text><text class="r" x="879" y="2924">{54...</text>
<line x1="839" y1="2840" x2="839" y2="2889"/><line class="d" x1="693" y1="2872" x2="839" y2="2872"/><text x="821" y="2864">1</text><text x="821" y="2877">1</text><text x="855" y="2877">R80</text>

<rect x="922" y="2818" width="216" height="126"/><line x1="922" y1="2860" x2="1138" y2="2860"/><line x1="922" y1="2902" x2="1138" y2="2902"/>
<text class="r" x="1132" y="2836">...em::IOBJ_ASSR_REL 7</text><text class="r" x="1132" y="2853">{157,T_IMP56}</text><text x="926" y="2878">TestAttrForma...{I,R62}</text><text x="926" y="2895">TestAttrForma...{I,R62}</text>
<rect x="1212" y="2789" width="139" height="51"/><line x1="1212" y1="2831" x2="1351" y2="2831"/>
<text class="r" x="1345" y="2807">... OtherSide1</text><text class="r" x="1345" y="2824">{161...</text>
<rect x="1209" y="2898" width="150" height="64"/><line x1="1209" y1="2940" x2="1359" y2="2940"/>
<text class="r" x="1353" y="2916">+Test Class ...</text><text class="r" x="1353" y="2933">{55,...</text><text x="1213" y="2956">TestAttrFo...{I}</text>
<line x1="1287" y1="2840" x2="1287" y2="2898"/><line class="d" x1="1138" y1="2870" x2="1287" y2="2870"/><text x="1270" y="2864">1</text><text x="1270" y="2884">1</text><text x="1312" y="2885">R62</text>

<rect x="1381" y="2815" width="201" height="97"/><line x1="1381" y1="2857" x2="1582" y2="2857"/><line x1="1381" y1="2865" x2="1582" y2="2865"/>
<text class="r" x="1576" y="2833">...m::IOBJ_ASSR_REL 8</text><text class="r" x="1576" y="2850">{158,T_IMP57}</text>
<rect x="1652" y="2779" width="148" height="52"/><line x1="1652" y1="2821" x2="1800" y2="2821"/>
<text class="r" x="1794" y="2797">...s OtherSide2</text><text class="r" x="1794" y="2814">{162...</text>
<rect x="1644" y="2889" width="178" height="75"/><line x1="1644" y1="2931" x2="1822" y2="2931"/><line x1="1644" y1="2939" x2="1822" y2="2939"/>
<text class="r" x="1816" y="2907">+Test Class Othe...</text><text class="r" x="1816" y="2924">{56,T_CLSOTH64}</text>
<line x1="1718" y1="2831" x2="1718" y2="2889"/><line class="d" x1="1582" y1="2860" x2="1718" y2="2860"/><text x="1701" y="2856">1</text><text x="1701" y="2874">1</text><text x="1742" y="2877">R63</text>

<!-- Row R -->
<rect x="50" y="3079" width="224" height="149"/><line x1="50" y1="3121" x2="274" y2="3121"/><line x1="50" y1="3163" x2="274" y2="3163"/>
<text class="r" x="268" y="3097">...stem::IOBJ_ASSR_REL 9</text><text class="r" x="268" y="3114">{159,T_IMP58}</text><text x="54" y="3139">TestAttrFormal...{I,R64}</text><text x="54" y="3156">TestAttrFormal...{I,R64}</text>
<rect x="339" y="3040" width="148" height="54"/><line x1="339" y1="3082" x2="487" y2="3082"/>
<text class="r" x="481" y="3058">...s OtherSide3</text><text class="r" x="481" y="3075">{163...</text>
<rect x="343" y="3215" width="135" height="55"/><line x1="343" y1="3257" x2="478" y2="3257"/>
<text class="r" x="472" y="3233">... OtherSide4</text><text class="r" x="472" y="3250">{164...</text>
<line x1="403" y1="3094" x2="403" y2="3215"/><line class="d" x1="274" y1="3152" x2="403" y2="3152"/><text x="386" y="3118">1</text><text x="386" y="3200">1</text><text x="421" y="3176">R64</text>

<rect x="537" y="3075" width="224" height="129"/><line x1="537" y1="3117" x2="761" y2="3117"/><line x1="537" y1="3125" x2="761" y2="3125"/>
<text class="r" x="755" y="3093">...tem::IOBJ_ASSR_REL 10</text><text class="r" x="755" y="3110">{160,T_IMP59}</text>
<rect x="822" y="2990" width="134" height="58"/><line x1="822" y1="3032" x2="956" y2="3032"/><line x1="822" y1="3040" x2="956" y2="3040"/>
<text class="r" x="950" y="3008">... OtherSide5</text><text class="r" x="950" y="3025">{165...</text>
<rect x="821" y="3189" width="193" height="96"/><line x1="821" y1="3231" x2="1014" y2="3231"/><line x1="821" y1="3239" x2="1014" y2="3239"/>
<text class="r" x="1008" y="3207">... Class OtherSide6</text><text class="r" x="1008" y="3224">{166,T_IMPOTH}</text>
<line x1="903" y1="3048" x2="903" y2="3189"/><line class="d" x1="761" y1="3120" x2="903" y2="3120"/><text x="886" y="3072">1</text><text x="886" y="3174">1</text><text x="920" y="3136">R65</text>
</svg>
</body></html>
